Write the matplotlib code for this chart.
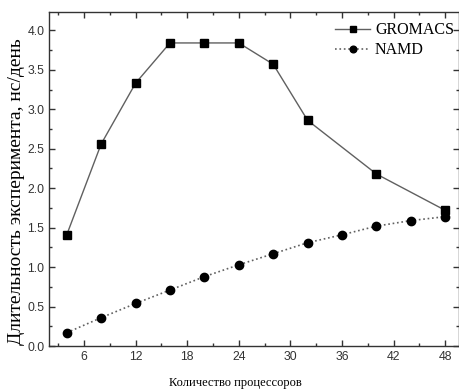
import numpy as np
import matplotlib.pyplot as plt
from matplotlib.ticker import MultipleLocator

# data
procs_gromacs = [4, 8, 12, 16, 20, 24, 28, 32, 40, 48]
gromacs = [1.41, 2.56, 3.33, 3.84, 3.84, 3.84, 3.57, 2.86, 2.18, 1.72]
procs_namd = [4, 8, 12, 16, 20, 24, 28, 32, 36, 40, 44, 48]
namd = [0.17, 0.36, 0.54, 0.71, 0.88, 1.03, 1.17, 1.31, 1.41, 1.52, 1.59, 1.64]

fig = plt.figure(figsize=(4.59, 3.92), dpi=100)
ax = fig.add_axes([0.107, 0.117, 0.893, 0.852])

ax.plot(procs_gromacs, gromacs, '-', color='#606060', lw=1.0,
        marker='s', ms=5.5, mfc='black', mec='black', label='GROMACS')
ax.plot(procs_namd, namd, ':', color='#606060', lw=1.2,
        marker='o', ms=6, mfc='black', mec='black', label='NAMD')

ax.set_xlim(1.95, 49.6)
ax.set_ylim(0, 4.23)
ax.xaxis.set_major_locator(MultipleLocator(6))
ax.xaxis.set_minor_locator(MultipleLocator(3))
ax.yaxis.set_major_locator(MultipleLocator(0.5))
ax.yaxis.set_minor_locator(MultipleLocator(0.25))
ax.yaxis.set_major_formatter(plt.FormatStrFormatter('%.1f'))

ax.tick_params(which='both', direction='in', top=True, right=True,
               color='#333333', labelsize=8.8, labelcolor='#333333')
ax.tick_params(which='major', length=4.5, width=1)
ax.tick_params(which='minor', length=2.5, width=1)
for lab in ax.get_xticklabels() + ax.get_yticklabels():
    lab.set_fontfamily('Liberation Sans')
for s in ax.spines.values():
    s.set_color('#333333')
    s.set_linewidth(1.0)

ax.set_xlabel('Количество процессоров', family='Liberation Serif', fontsize=9)
ax.xaxis.set_label_coords(0.454, -0.092)
ax.set_ylabel('Длительность эксперимента, нс/день', family='Liberation Serif',
              fontsize=14)
ax.yaxis.set_label_coords(-0.059, 0.464)

ax.legend(loc='upper right', frameon=False, prop={'family': 'Liberation Serif', 'size': 11.5},
          handlelength=2.2, handletextpad=0.3, labelspacing=0.25, markerscale=0.8,
          borderpad=0, borderaxespad=0, bbox_to_anchor=(0.988, 0.97))

fig.savefig('out.png', dpi=100)
